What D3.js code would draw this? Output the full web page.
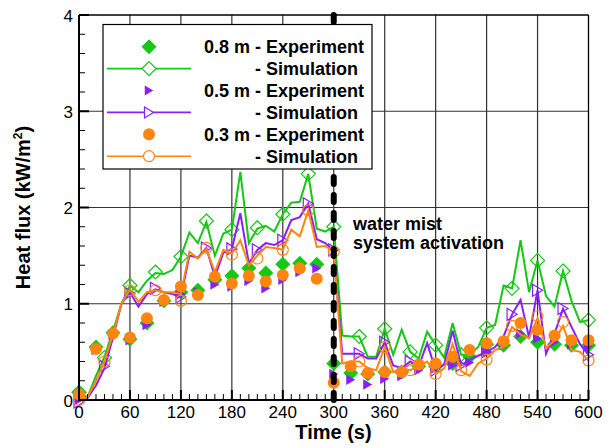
<!DOCTYPE html>
<html><head><meta charset="utf-8">
<script src="https://cdn.jsdelivr.net/npm/d3@7"></script>
<style>body{margin:0;background:#fff}</style>
</head><body>
<svg id="c" width="609" height="448"></svg>
<script>
// ---------- data ----------
const simTime = [0,10,20,30,40,50,60,70,80,90,100,110,120,130,140,150,160,170,180,190,200,210,220,230,240,250,260,270,280,290,300,310,320,330,340,350,360,370,380,390,400,410,420,430,440,450,460,470,480,490,500,510,520,530,540,550,560,570,580,590,600];
const markTime = [0,30,60,90,120,150,180,210,240,270,300,330,360,390,420,450,480,510,540,570,600];
const expTime = [0,20,40,60,80,100,120,140,160,180,200,220,240,260,280,300,320,340,360,380,400,420,440,460,480,500,520,540,560,580,600];

const sim08 = [0.08,0.03,0.25,0.45,0.72,1.00,1.19,1.12,1.24,1.32,
 1.31,1.35,1.49,1.74,1.63,1.85,1.50,1.73,1.77,2.37,
 1.63,1.78,1.81,1.75,1.93,2.05,2.06,2.35,1.78,1.75,
 1.80,0.67,0.66,0.66,0.45,0.45,0.74,0.47,0.73,0.50,
 0.43,0.71,0.57,0.44,0.80,0.47,0.47,0.55,0.75,0.78,
 1.19,1.16,1.66,1.12,1.45,1.08,0.97,1.34,1.03,0.81,
 0.83];
const sim08Marks = [0.08,0.44,1.19,1.33,1.49,1.86,1.77,1.79,1.93,2.35,1.80,0.66,0.74,0.50,0.57,0.47,0.75,1.16,1.45,1.34,0.83];
const exp08 = [0.08,0.55,0.70,0.63,0.80,1.03,1.12,1.14,1.25,1.29,1.37,1.32,1.41,1.42,1.41,
 0.38,0.28,0.27,0.29,0.29,0.35,0.35,0.38,0.45,0.58,0.57,0.66,0.60,0.58,0.57,0.57];

const sim05 = [0.00,0.02,0.15,0.33,0.65,1.00,1.12,0.97,1.10,1.15,
 1.12,1.10,1.07,1.50,1.48,1.58,1.28,1.53,1.57,1.94,
 1.42,1.56,1.63,1.61,1.66,1.87,1.90,2.04,1.67,1.63,
 1.55,0.48,0.48,0.48,0.43,0.43,0.60,0.36,0.33,0.40,
 0.35,0.59,0.31,0.37,0.72,0.36,0.42,0.46,0.50,0.55,
 0.66,0.89,1.04,0.65,1.14,0.48,0.69,0.95,0.76,0.58,
 0.47];
const sim05Marks = [-0.02,0.35,1.11,1.16,1.07,1.58,1.57,1.56,1.66,2.04,1.56,0.48,0.60,0.40,0.31,0.36,0.50,0.89,1.14,0.95,0.47];
const exp05 = [0.00,0.52,0.68,0.62,0.78,1.02,1.10,1.12,1.20,1.18,1.24,1.16,1.25,1.33,1.37,
 0.27,0.21,0.16,0.22,0.25,0.31,0.33,0.36,0.39,0.50,0.57,0.69,0.64,0.60,0.58,0.56];

const sim03 = [0.00,0.03,0.20,0.40,0.68,1.00,1.15,1.02,1.12,1.14,
 1.12,1.12,1.10,1.54,1.47,1.57,1.33,1.56,1.52,1.66,
 1.40,1.50,1.59,1.58,1.56,1.77,1.70,1.97,1.59,1.60,
 1.54,0.38,0.40,0.40,0.33,0.31,0.55,0.29,0.33,0.31,
 0.35,0.40,0.27,0.33,0.58,0.30,0.25,0.38,0.43,0.52,
 0.55,0.76,0.68,0.64,0.85,0.54,0.62,0.77,0.52,0.50,
 0.41];
const sim03Marks = [0.00,0.40,1.14,1.14,1.03,1.58,1.51,1.47,1.56,1.97,1.54,0.40,0.55,0.31,0.27,0.31,0.42,0.77,0.87,0.81,0.41];
const exp03 = [0.06,0.53,0.69,0.65,0.85,1.04,1.18,1.09,1.28,1.21,1.29,1.23,1.30,1.37,1.26,
 0.18,0.35,0.28,0.29,0.29,0.37,0.38,0.45,0.52,0.59,0.61,0.80,0.73,0.67,0.62,0.62];

const xTicks = [0,60,120,180,240,300,360,420,480,540,600];
const yTicks = [0,1,2,3,4];
const activationTime = 300;
const legendLabels = ["0.8 m - Experiment","- Simulation","0.5 m - Experiment","- Simulation","0.3 m - Experiment","- Simulation"];
const annotation = ["water mist","system activation"];

// ---------- setup ----------
const FONT = "'Liberation Sans', Arial, Helvetica, sans-serif";
const GREEN = "#14c814", PURPLE = "#8a1eff", ORANGE = "#ff8510";
const svg = d3.select("#c");
svg.append("rect").attr("width",609).attr("height",448).attr("fill","#fff");

const x = d3.scaleLinear().domain([0,600]).range([79,588.5]);
const y = d3.scaleLinear().domain([0,4]).range([400,15]);

// grid
const g = svg.append("g");
g.selectAll(".vg").data(xTicks.filter(d=>d>0&&d<600)).join("line")
  .attr("x1",d=>x(d)).attr("x2",d=>x(d)).attr("y1",y(0)).attr("y2",y(4))
  .attr("stroke","#333").attr("stroke-width",1.2);
g.selectAll(".hg").data(yTicks.filter(d=>d>0&&d<4)).join("line")
  .attr("x1",x(0)).attr("x2",x(600)).attr("y1",d=>y(d)).attr("y2",d=>y(d))
  .attr("stroke","#333").attr("stroke-width",1.2);

// marker shapes
function diamond(s){return `M0,${-s}L${s},0L0,${s}L${-s},0Z`;}
function triR(w,h){return `M${-w/2},${-h/2}L${w/2},0L${-w/2},${h/2}Z`;}
function circ(r){return d3.symbol().type(d3.symbolCircle).size(Math.PI*r*r)();}

const line = d3.line().x((d,i)=>x(simTime[i])).y(d=>y(d));

function series(simVals, markVals, expVals, color, openPath, fillPath){
  // experiment filled markers
  svg.append("g").selectAll("path").data(expVals).join("path")
    .attr("d",fillPath).attr("transform",(d,i)=>`translate(${x(expTime[i])},${y(d)})`)
    .attr("fill",color).attr("stroke","none");
  // simulation line
  svg.append("path").datum(simVals).attr("d",line).attr("fill","none")
    .attr("stroke",color).attr("stroke-width",2).attr("stroke-linejoin","miter");
  // simulation open markers
  svg.append("g").selectAll("path").data(markVals).join("path")
    .attr("d",openPath).attr("transform",(d,i)=>`translate(${x(markTime[i])},${y(d)})`)
    .attr("fill","none").attr("stroke",color).attr("stroke-width",1.2);
}
series(sim08, sim08Marks, exp08, GREEN, diamond(7), diamond(7.5));
series(sim05, sim05Marks, exp05, PURPLE, triR(10,12), triR(9,10.5));
series(sim03, sim03Marks, exp03, ORANGE, circ(5.5), circ(6));

// activation dashed line
svg.append("line").attr("x1",x(activationTime)).attr("x2",x(activationTime))
  .attr("y1",y(4)).attr("y2",y(0))
  .attr("stroke","#000").attr("stroke-width",6).attr("stroke-linecap","round")
  .attr("stroke-dasharray","7,11");

// axes frame
svg.append("line").attr("x1",x(0)).attr("x2",x(600)).attr("y1",y(4)).attr("y2",y(4)).attr("stroke","#000").attr("stroke-width",1.3);
svg.append("line").attr("x1",x(600)).attr("x2",x(600)).attr("y1",y(0)).attr("y2",y(4)).attr("stroke","#000").attr("stroke-width",1.3);
svg.append("line").attr("x1",x(0)).attr("x2",x(0)).attr("y1",y(0)+1).attr("y2",y(4)).attr("stroke","#000").attr("stroke-width",2);
svg.append("line").attr("x1",x(0)-1).attr("x2",x(600)+0.5).attr("y1",y(0)).attr("y2",y(0)).attr("stroke","#000").attr("stroke-width",2);

// x ticks
const xMinor = d3.range(0,601,10).filter(d=>d%60!==0);
svg.append("g").selectAll("line").data(xMinor).join("line")
  .attr("x1",d=>x(d)).attr("x2",d=>x(d)).attr("y1",y(0)).attr("y2",y(0)-6)
  .attr("stroke","#000").attr("stroke-width",1);
svg.append("g").selectAll("line").data(xTicks).join("line")
  .attr("x1",d=>x(d)).attr("x2",d=>x(d)).attr("y1",y(0)).attr("y2",y(0)-10)
  .attr("stroke","#000").attr("stroke-width",2);
svg.append("g").selectAll("text").data(xTicks).join("text")
  .attr("x",d=>x(d)).attr("y",417.5).attr("text-anchor","middle")
  .attr("font-family",FONT).attr("font-size",17).text(d=>d);

// y ticks
const yMinor = d3.range(0,4.001,0.2).filter(d=>Math.abs(d-Math.round(d))>0.01);
svg.append("g").selectAll("line").data(yMinor).join("line")
  .attr("x1",x(0)).attr("x2",x(0)+6).attr("y1",d=>y(d)).attr("y2",d=>y(d))
  .attr("stroke","#000").attr("stroke-width",1);
svg.append("g").selectAll("line").data(yTicks).join("line")
  .attr("x1",x(0)).attr("x2",x(0)+10).attr("y1",d=>y(d)).attr("y2",d=>y(d))
  .attr("stroke","#000").attr("stroke-width",2);
svg.append("g").selectAll("text").data(yTicks).join("text")
  .attr("x",73).attr("y",d=>y(d)+6.5).attr("text-anchor","end")
  .attr("font-family",FONT).attr("font-size",17).text(d=>d);

// axis titles
svg.append("text").attr("x",333.5).attr("y",439).attr("text-anchor","middle")
  .attr("font-family",FONT).attr("font-size",20).attr("font-weight","bold").text("Time (s)");
const yt = svg.append("text").attr("transform","translate(30,207.5) rotate(-90)").attr("text-anchor","middle")
  .attr("font-family",FONT).attr("font-size",20).attr("font-weight","bold");
yt.append("tspan").text("Heat flux (kW/m");
yt.append("tspan").attr("font-size",12).attr("dy",-8).text("2");
yt.append("tspan").attr("dy",8).text(")");

// annotation
svg.append("g").selectAll("text").data(annotation).join("text")
  .attr("x",353).attr("y",(d,i)=>230+i*19).attr("font-family",FONT)
  .attr("font-size",18).attr("font-weight","bold").text(d=>d);

// legend
const lg = svg.append("g");
lg.append("rect").attr("x",103).attr("y",24.5).attr("width",269).attr("height",144.5)
  .attr("fill","#fff").attr("stroke","#000").attr("stroke-width",1.2);
const rowY = i => 46.7 + i*21.9;
const colors = [GREEN,GREEN,PURPLE,PURPLE,ORANGE,ORANGE];
const symX = 149;
// measure prefix width
const tmp = lg.append("text").attr("font-family",FONT).attr("font-size",18).attr("font-weight","bold")
  .attr("xml:space","preserve").text("0.8 m ");
let pre = tmp.node().getComputedTextLength();
tmp.remove();
legendLabels.forEach((lab,i)=>{
  const cy = rowY(i), c = colors[i];
  if(i%2===1){
    lg.append("line").attr("x1",107).attr("x2",191).attr("y1",cy).attr("y2",cy)
      .attr("stroke",c).attr("stroke-width",1.6);
    const p = i===1?diamond(7):(i===3?triR(9,11):circ(5.5));
    lg.append("path").attr("d",p).attr("transform",`translate(${symX},${cy})`)
      .attr("fill","#fff").attr("stroke",c).attr("stroke-width",1.2);
  } else {
    const p = i===0?diamond(7.5):(i===2?triR(8.5,10):circ(6));
    lg.append("path").attr("d",p).attr("transform",`translate(${symX},${cy})`).attr("fill",c);
  }
  lg.append("text").attr("x", i%2===0 ? 204 : 204+pre).attr("y",cy+6.5)
    .attr("font-family",FONT).attr("font-size",18).attr("font-weight","bold").text(lab);
});
</script>
</body></html>
